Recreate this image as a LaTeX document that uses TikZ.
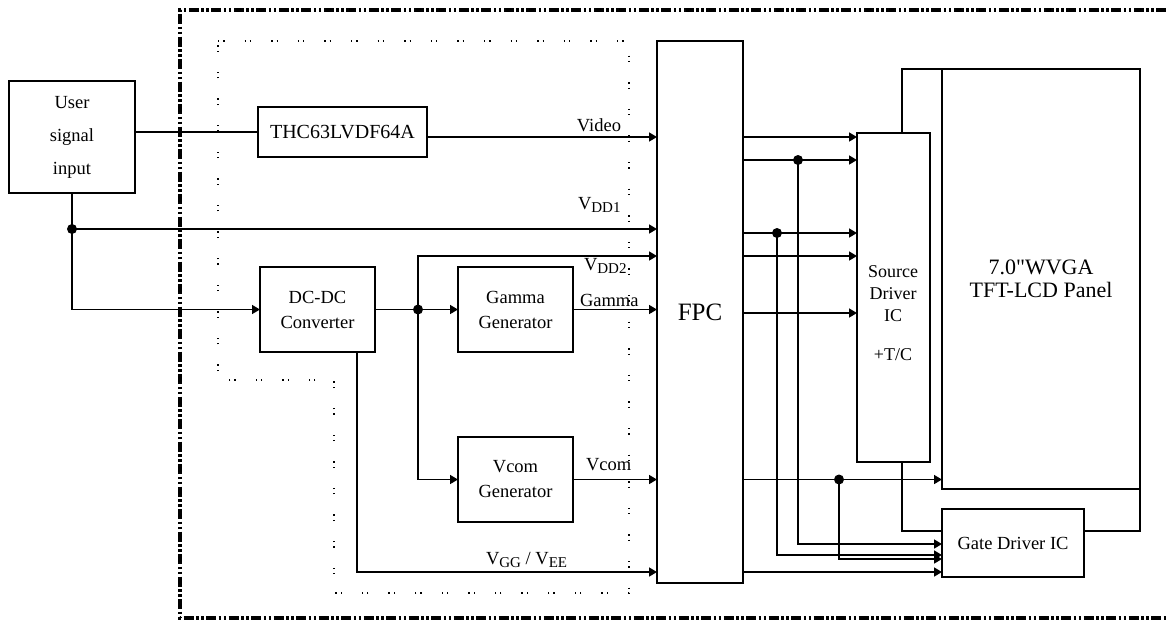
\documentclass[tikz,border=0pt]{standalone}
\usepackage{fontspec}
\setmainfont{Liberation Serif}[Ligatures=TeXOff]
\usetikzlibrary{arrows.meta,positioning}
\newcommand{\lowidx}[1]{\raisebox{-0.4ex}{\fontsize{15}{15}\selectfont #1}}

\begin{document}
\begin{tikzpicture}[x=1pt,y=-1pt,line width=1.6pt,outer sep=0pt,inner sep=0pt,
  blk/.style={draw,anchor=north west,align=center,font=\fontsize{18.5}{25}\selectfont},
  arr/.style={-{Triangle[length=8pt,width=9pt]}},
  lbl/.style={font=\fontsize{18.5}{20}\selectfont}]
  \useasboundingbox (0,0) rectangle (1166,622);
  \draw[line width=3.2pt,dash pattern=on 10pt off 2.5pt on 2.5pt off 2.5pt on 2.5pt off 2.5pt]
    (1166,10) -- (180,10) -- (180,618) -- (1166,618);
  \draw[line width=1.3pt,dash pattern=on 1.3pt off 4pt on 1.3pt off 20pt]
    (218,41) -- (629,41) -- (629,593) -- (334,593) -- (334,380) -- (218,380) -- cycle;
  \draw
  (9,81) node[blk,minimum width=126pt,minimum height=112pt,font=\fontsize{18.5}{33}\selectfont] (user) {User\\signal\\input}
  (258,107) node[blk,minimum width=169pt,minimum height=50pt,font=\fontsize{20}{20}\selectfont] (thc) {THC63LVDF64A}
  (260,267) node[blk,minimum width=115pt,minimum height=85pt] (dcdc) {DC-DC\\Converter}
  (458,267) node[blk,minimum width=115pt,minimum height=85pt] (gamma) {Gamma\\Generator}
  (458,437) node[blk,minimum width=115pt,minimum height=85pt] (vcom) {Vcom\\Generator}
  (657,41) node[blk,minimum width=86pt,minimum height=542pt,font=\fontsize{25}{26}\selectfont] (fpc) {FPC}
  (857,133) node[blk,minimum width=73pt,minimum height=329pt] (src) {}
  (942,69) node[blk,minimum width=198pt,minimum height=420pt,font=\fontsize{22}{23}\selectfont] (panel) {7.0"WVGA\\TFT-LCD Panel}
  (942,509) node[blk,minimum width=142pt,minimum height=68pt] (gate) {Gate Driver IC}
  ;
  \node[align=center,font=\fontsize{18}{22}\selectfont,anchor=north] (srctxt) at (893,266) {Source\\Driver\\IC\\[17pt]+T/C};
  \node[lbl,anchor=base east] (vid) at (621,131) {Video};
  \node[lbl,anchor=base west] (vdd1) at (578,209) {V\lowidx{DD1}};
  \node[lbl,anchor=base west] (vdd2) at (584,270) {V\lowidx{DD2}};
  \node[lbl,anchor=base west] (gam) at (580,306) {Gamma};
  \node[lbl,anchor=base west] (vcm) at (586,470) {Vcom};
  \node[lbl,anchor=base west] (vgg) at (486,564) {V\lowidx{GG} / V\lowidx{EE}};
  \coordinate (jv) at (user.south |- 0,229);
  \coordinate (jd) at (dcdc.east -| 418,0);
  \coordinate (ja) at (798,160);
  \coordinate (jb) at (777,233);
  \coordinate (jc) at (vcom.east -| 839,0);
  \draw (thc.west -| user.east) -- (thc.west);
  \draw[arr] (thc.east |- 0,137) -- (fpc.west |- 0,137);
  \draw (user.south) -- (jv);
  \draw[arr] (jv) -- (jv -| fpc.west);
  \draw[arr] (jv) |- (dcdc.west);
  \draw (dcdc.east) -- (jd);
  \draw[arr] (jd) -- (gamma.west);
  \draw[arr] (jd) |- (fpc.west |- 0,256);
  \draw[arr] (jd) |- (vcom.west);
  \draw[arr] (gamma.east) -- (gamma.east -| fpc.west);
  \draw[arr] (vcom.east) -- (vcom.east -| fpc.west);
  \draw[arr] (dcdc.south -| 357,0) |- (fpc.west |- 0,572);
  \foreach \y in {137,160,233,256,313}
    \draw[arr] (fpc.east |- 0,\y) -- (src.west |- 0,\y);
  \draw[arr] (fpc.east |- vcom.east) -- (panel.west |- vcom.east);
  \draw[arr] (ja) |- (gate.west |- 0,544);
  \draw[arr] (jb) |- (gate.west |- 0,555);
  \draw[arr] (jc) |- (gate.west |- 0,559);
  \draw[arr] (fpc.east |- 0,572) -- (gate.west |- 0,572);
  \draw (src.north -| 902,0) |- (panel.north west);
  \draw (src.south -| 902,0) |- (gate.west |- 0,531);
  \draw (gate.east |- 0,531) -| (panel.south east);
  \foreach \p in {jv,jd,ja,jb,jc}
    \fill (\p) circle (5pt);
\end{tikzpicture}
\end{document}
